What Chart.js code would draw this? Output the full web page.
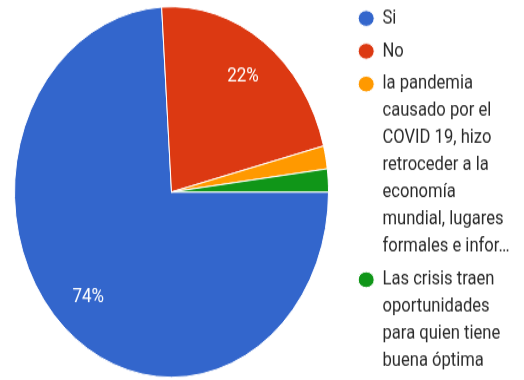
<!DOCTYPE html>
<html lang="es">
<head>
  <meta charset="UTF-8" />
  <title>Encuesta</title>
  <script src="https://cdn.jsdelivr.net/npm/chart.js"></script>
  <style>
    body {
      margin: 0;
      padding: 0;
      background: #fff;
    }
    /* the reference is stretched vertically: 524x322 bitmap shown at 524x380 */
    #pieChart {
      display: block;
      width: 524px;
      height: 380px;
    }
  </style>
</head>
<body>
  <canvas id="pieChart" width="524" height="322" style="width:524px;height:380px"></canvas>

  <script>
    // legend labels, already wrapped the way the form shows them
    const categories = [
      ['Si'],
      ['No'],
      ['la pandemia', 'causado por el', 'COVID 19, hizo', 'retroceder a la', 'economía', 'mundial, lugares', 'formales e infor…'],
      ['Las crisis traen', 'oportunidades', 'para quien tiene', 'buena óptima']
    ];
    const responses = [37, 11, 1, 1];
    const sliceColors = ['#3366cc', '#dc3912', '#ff9900', '#109618'];

    // the form puts the pie a little left of the space the legend leaves
    const pieArea = {
      id: 'pieArea',
      afterLayout(chart) {
        const a = chart.chartArea;
        a.left = 15;
        a.right = 328;
        a.top = 6;
        a.bottom = 319.4;
        a.width = a.right - a.left;
        a.height = a.bottom - a.top;
      }
    };

    // percentage text inside the larger slices
    const pctLabels = {
      id: 'pctLabels',
      afterDatasetsDraw(chart) {
        const ctx = chart.ctx;
        const total = responses.reduce((a, b) => a + b, 0);
        chart.getDatasetMeta(0).data.forEach((arc, i) => {
          const share = responses[i] / total;
          if (share < 0.05) return;
          const { x, y, startAngle, endAngle, outerRadius } = arc.getProps(['x', 'y', 'startAngle', 'endAngle', 'outerRadius'], true);
          const mid = (startAngle + endAngle) / 2;
          const r = outerRadius * 0.775;
          ctx.save();
          ctx.fillStyle = '#ffffff';
          ctx.font = '17px Roboto';
          ctx.textAlign = 'center';
          ctx.textBaseline = 'middle';
          ctx.fillText(Math.round(share * 100) + '%', x + Math.cos(mid) * r, y + Math.sin(mid) * r);
          ctx.restore();
        });
      }
    };

    new Chart(document.getElementById('pieChart'), {
      type: 'pie',
      data: {
        labels: categories,
        datasets: [{
          data: responses,
          backgroundColor: sliceColors,
          borderColor: '#ffffff',
          borderWidth: 1
        }]
      },
      options: {
        responsive: false,
        animation: false,
        events: [],
        rotation: 90,
        radius: 157,
        layout: {
          padding: { left: 0, right: 0, top: 2.5, bottom: 0 }
        },
        plugins: {
          tooltip: { enabled: false },
          legend: {
            position: 'right',
            align: 'start',
            maxWidth: 170.6,
            labels: {
              usePointStyle: true,
              pointStyle: 'circle',
              pointStyleWidth: 16,
              boxWidth: 16,
              boxHeight: 9.6,
              padding: 4.8,
              color: '#2a2a2a',
              font: { family: 'Roboto', size: 16.6, lineHeight: 23 / 16.6 }
            }
          }
        }
      },
      plugins: [pieArea, pctLabels]
    });
  </script>
</body>
</html>
